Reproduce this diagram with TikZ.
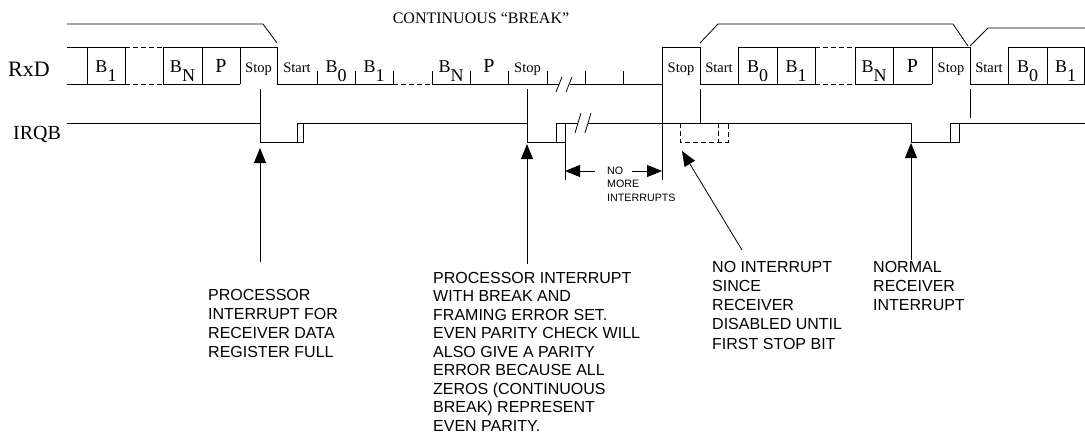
\documentclass[tikz,border=0pt]{standalone}
\usepackage{fontspec}
\setmainfont{Liberation Serif}
\setsansfont{Liberation Sans}
\usetikzlibrary{arrows.meta}

\tikzset{
  wire/.style      = {line width=0.8pt},
  unsure/.style    = {wire, dash pattern=on 5pt off 3pt},
  bitlabel/.style  = {anchor=base, inner sep=0pt, font=\fontsize{18}{18}\selectfont},
  paritylabel/.style = {anchor=base, inner sep=0pt, font=\fontsize{20}{20}\selectfont},
  framelabel/.style = {anchor=base, inner sep=0pt, font=\fontsize{14.5}{14.5}\selectfont},
  remark/.style    = {anchor=north west, inner sep=0pt, align=left,
                      font=\sffamily\fontsize{16}{19.2}\selectfont},
  longremark/.style = {remark, font=\sffamily\fontsize{16}{18.5}\selectfont},
  smallremark/.style = {remark, font=\sffamily\fontsize{10.7}{13.3}\selectfont}
}
\newcommand{\bsub}[2]{#1\raisebox{-9.5pt}{#2}}

\begin{document}
\begin{tikzpicture}[x=1pt, y=-1pt, >={Triangle[length=15pt,width=12pt]}]
\useasboundingbox (0,0) rectangle (1085,440);

% Signal names
\node[anchor=west, inner sep=0pt, font=\fontsize{22}{22}\selectfont] (rxd) at (8,69.5) {RxD};
\node[anchor=base west, inner sep=0pt, font=\fontsize{20}{20}\selectfont] (irqb) at (13,139) {IRQB};
\node[inner sep=0pt, font=\fontsize{16}{16}\selectfont] (cont) at (481,18) {CONTINUOUS “BREAK”};

% Frame brackets
\draw[wire] (67,24) -- (263,24) -- (277,43);
\draw[wire] (700,43) -- (718,24) -- (953,24) -- (968,46);
\draw[wire] (970,46) -- (988,28) -- (1085,28);

% RxD line
\draw[wire] (67,47) -- (125,47) (163,47) -- (277,47) -- (277,84) -- (393,84)
            (432,84) -- (559,84);
\draw[wire] (67,84) -- (125,84) (163,84) -- (240,84);
\draw[wire] (570,84) -- (662,84) -- (662,47) -- (700,47) -- (700,84) -- (815,84)
            (855,84) -- (932,84);
\draw[wire] (738,47) -- (815,47) (855,47) -- (970,47) -- (970,84) -- (1085,84);
\draw[wire] (1008,47) -- (1085,47);
\draw[unsure] (125,47) -- (163,47) (125,84) -- (163,84) (393,84) -- (432,84)
              (815,47) -- (855,47) (815,84) -- (855,84);
\foreach \x in {87,125,163,202,240,738,777,815,855,893,932,1008,1047,1084}
  \draw[wire] (\x,47) -- (\x,84);
\foreach \x in {317,355,393,432,470,508,547,585,623}
  \draw[wire] (\x,71) -- (\x,84);
\draw[wire] (556,92) -- (562,77) (566,92) -- (572,77);

% Bit labels
\begin{scope}[every node/.style={bitlabel}]
\foreach \x/\n [count=\i] in {106/1, 182.5/N, 336/0, 374/1, 451/N,
                              757.5/0, 796/1, 874/N, 1027.5/0, 1065.5/1}
  \node (b\i) at (\x,72) {\bsub{B}{\n}};
\end{scope}

\begin{scope}[every node/.style={paritylabel}]
\foreach \x [count=\i] in {221,489,912.5}
  \node (p\i) at (\x,72) {P};
\end{scope}

\begin{scope}[every node/.style={framelabel}]
\foreach \x [count=\i] in {258.5,527.5,681,951}
  \node (stop\i) at (\x,72) {Stop};
\foreach \x [count=\i] in {297,719,989}
  \node (start\i) at (\x,72) {Start};
\end{scope}

% IRQB line
\draw[wire] (67,123) -- (260,123) -- (260,142) -- (303,142) -- (303,123)
            (297,142) -- (297,123) -- (527,123) -- (527,142) -- (565,142) -- (565,123)
            (556,142) -- (556,123) -- (578,123) (588,123) -- (911,123) -- (911,142)
            -- (959,142) -- (959,123) (950,142) -- (950,123) -- (1085,123);
\draw[wire] (575,133) -- (581,113) (585,133) -- (591,113);
\draw[unsure] (680,123) -- (680,142) -- (728,142) -- (728,123) (718,123) -- (718,142);

% Markers from RxD down to IRQB
\foreach \x in {260,527,700}
  \draw[wire] (\x,89) -- (\x,123);
\draw[wire] (970,89) -- (970,118);
\draw[wire] (565,142) -- (565,180);
\draw[wire] (662,84) -- (662,180);

% Notes
\node[smallremark] (nomore) at (607,167) {NO\\MORE\\INTERRUPTS};
\node[remark] (full) at (208,289) {PROCESSOR\\INTERRUPT FOR\\RECEIVER DATA\\REGISTER FULL};
\node[longremark] (brk) at (433,272) {PROCESSOR INTERRUPT\\WITH BREAK AND\\FRAMING ERROR SET.\\EVEN PARITY CHECK WILL\\ALSO GIVE A PARITY\\ERROR BECAUSE ALL\\ZEROS (CONTINUOUS\\BREAK) REPRESENT\\EVEN PARITY.};
\node[remark] (noint) at (712,261) {NO INTERRUPT\\SINCE\\RECEIVER\\DISABLED UNTIL\\FIRST STOP BIT};
\node[remark] (norm) at (873,261) {NORMAL\\RECEIVER\\INTERRUPT};

% Pointers
\coordinate (irqA) at (260,148);
\coordinate (irqB) at (527,144);
\coordinate (irqC) at (682,151);
\coordinate (irqD) at (911,143);
\coordinate (tailA) at (260,262);
\coordinate (tailB) at (527,264);
\coordinate (tailC) at (742,250);
\coordinate (tailD) at (911,260);
\foreach \l in {A,B,C,D}
  \draw[wire,->] (tail\l) -- (irq\l);

\coordinate (dimL) at (565,171);
\coordinate (dimR) at (662,171);
\coordinate (dimLt) at (595,171);
\coordinate (dimRt) at (632,171);
\draw[wire,->] (dimLt) -- (dimL);
\draw[wire,->] (dimRt) -- (dimR);

\end{tikzpicture}
\end{document}
